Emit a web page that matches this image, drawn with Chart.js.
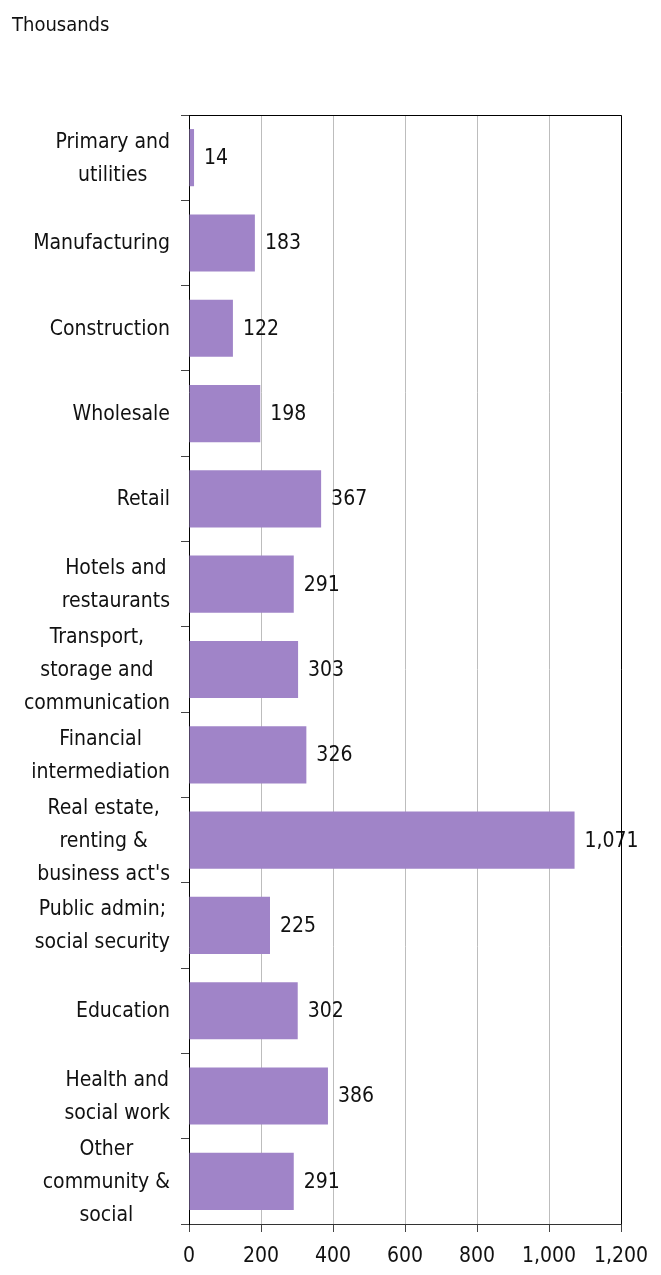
<!DOCTYPE html>
<html>
<head>
<meta charset="utf-8">
<script src="https://cdn.jsdelivr.net/npm/chart.js@4/dist/chart.umd.min.js"></script>
<style>
  html, body { margin: 0; padding: 0; background: #fff; }
  #wrap { position: relative; width: 661px; height: 1275px; }
  #unit { position: absolute; left: 12px; top: 12px; font: 20px 'Liberation Sans Narrow', 'DejaVu Sans Condensed', sans-serif; color: #111; }
</style>
</head>
<body>
<div id="wrap">
  <div id="unit">Thousands</div>
  <canvas id="chart" width="661" height="1275"></canvas>
</div>
<script>
const FONT = "'Liberation Sans Narrow', 'DejaVu Sans Condensed', sans-serif";

const categories = [
  ["Primary and", "utilities"],
  ["Manufacturing"],
  ["Construction"],
  ["Wholesale"],
  ["Retail"],
  ["Hotels and", "restaurants"],
  ["Transport,", "storage and", "communication"],
  ["Financial", "intermediation"],
  ["Real estate,", "renting &", "business act's"],
  ["Public admin;", "social security"],
  ["Education"],
  ["Health and", "social work"],
  ["Other", "community &", "social"]
];
const employees = [14, 183, 122, 198, 367, 291, 303, 326, 1071, 225, 302, 386, 291];
const xTicks = [0, 200, 400, 600, 800, 1000, 1200];

// frame: top + right border of the plot area
const framePlugin = {
  id: 'frame',
  afterDraw(chart) {
    const {ctx, chartArea: a} = chart;
    ctx.save();
    ctx.strokeStyle = '#000';
    ctx.lineWidth = 1;
    ctx.beginPath();
    ctx.moveTo(a.left, a.top + 0.5);
    ctx.lineTo(a.right + 0.5, a.top + 0.5);
    ctx.lineTo(a.right + 0.5, a.bottom);
    ctx.stroke();
    ctx.restore();
  }
};

// category labels: each block centred on itself, block right aligned
const catLabels = {
  id: 'catLabels',
  afterDraw(chart) {
    const {ctx} = chart;
    const y = chart.scales.y;
    ctx.save();
    ctx.font = '21px ' + FONT;
    ctx.fillStyle = '#111';
    ctx.textAlign = 'center';
    ctx.textBaseline = 'middle';
    const lh = 33;
    categories.forEach((lines, i) => {
      const cy = y.getPixelForValue(i);
      const w = Math.max(...lines.map(l => ctx.measureText(l).width));
      const cx = 170 - w / 2;
      const y0 = cy - (lines.length - 1) * lh / 2;
      lines.forEach((l, j) => ctx.fillText(l, cx, y0 + j * lh + 1));
    });
    ctx.restore();
  }
};

const valueLabels = {
  id: 'valueLabels',
  afterDatasetsDraw(chart) {
    const {ctx} = chart;
    const meta = chart.getDatasetMeta(0);
    ctx.save();
    ctx.font = '21px ' + FONT;
    ctx.fillStyle = '#111';
    ctx.textAlign = 'left';
    ctx.textBaseline = 'middle';
    meta.data.forEach((bar, i) => {
      ctx.fillText(employees[i].toLocaleString('en-US'), bar.x + 10, bar.y + 1);
    });
    ctx.restore();
  }
};

new Chart(document.getElementById('chart'), {
  type: 'bar',
  data: {
    labels: categories.map(c => c.join(' ')),
    datasets: [{
      data: employees,
      backgroundColor: '#a084c8',
      borderWidth: 0,
      categoryPercentage: 1,
      barPercentage: 0.67
    }]
  },
  options: {
    indexAxis: 'y',
    responsive: false,
    animation: false,
    layout: { padding: { top: 115, right: 40, left: 0, bottom: 0 } },
    plugins: { legend: { display: false }, tooltip: { enabled: false } },
    scales: {
      x: {
        min: 0,
        max: 1200,
        afterBuildTicks(scale) { scale.ticks = xTicks.map(v => ({value: v})); },
        afterFit(scale) { scale.height = 51; },
        grid: { color: '#bdbdbd', tickColor: '#444', tickLength: 8, lineWidth: 1 },
        border: { color: '#333', width: 1 },
        ticks: {
          padding: 12,
          color: '#111',
          maxRotation: 0,
          font: { family: FONT, size: 21 },
          callback: v => v.toLocaleString('en-US')
        }
      },
      y: {
        afterFit(scale) { scale.width = 189; },
        grid: { offset: true, drawOnChartArea: false, tickLength: 8, tickColor: '#444' },
        border: { color: '#000', width: 1 },
        ticks: { display: false }
      }
    }
  },
  plugins: [framePlugin, catLabels, valueLabels]
});
</script>
</body>
</html>
